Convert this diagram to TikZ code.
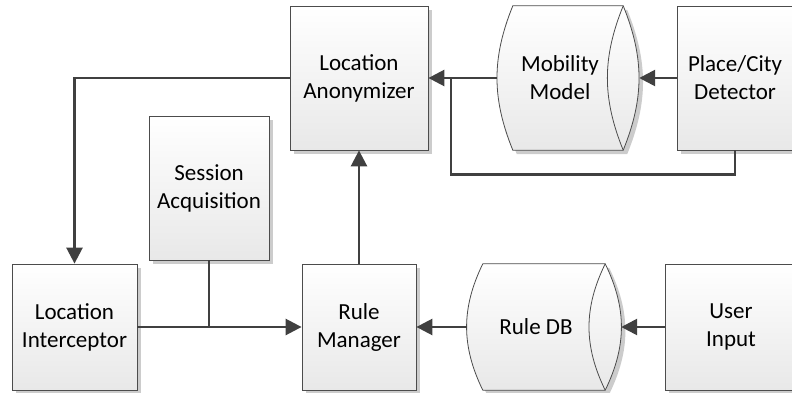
\documentclass[tikz,border=0pt]{standalone}
\usepackage{fontspec}
\setmainfont{Carlito}
\usepackage{tikz}
\usetikzlibrary{positioning,calc,shadows,arrows.meta,backgrounds}

\begin{document}
\begin{tikzpicture}[x=1pt,y=-1pt,
    block/.style={draw=black!70, line width=0.8pt, top color=white, bottom color=black!9,
        drop shadow={shadow xshift=4pt, shadow yshift=-4pt, fill=black!20, opacity=1},
        align=center, inner sep=0pt, font=\fontsize{23}{28}\selectfont},
    dbtext/.style={align=center, inner sep=0pt, font=\fontsize{23}{28}\selectfont},
    dbbody/.style={draw=black!70, line width=0.8pt, top color=white, bottom color=black!9,
        drop shadow={shadow xshift=4pt, shadow yshift=-4pt, fill=black!20, opacity=1}},
    dbedge/.style={draw=black!70, line width=0.8pt},
    link/.style={draw=black!75, line width=2.6pt},
    flow/.style={link, -{Triangle[length=16pt,width=16pt]}}]
    \useasboundingbox (0,0) rectangle (792,393);
    \clip (0,0) rectangle (792,393);

    % upper row
    \node[block, minimum width=138pt, minimum height=144pt] (anon) at (359,78) {Location\\Anonymizer};
    \node[dbtext, minimum width=94pt, minimum height=144pt] (mobil) at (560,78) {Mobility\\Model};
    \node[block, minimum width=116pt, minimum height=144pt] (place) at (735,78) {Place/City\\Detector};
    \node[block, minimum width=120pt, minimum height=144pt] (sess) at (209,188) {Session\\Acquisition};

    % lower row
    \node[block, minimum width=125pt, minimum height=126pt] (icpt) at (74.5,327) {Location\\Interceptor};
    \node[block, minimum width=114pt, minimum height=126pt] (rules) at (359,327) {Rule\\Manager};
    \node[dbtext, minimum width=106pt, minimum height=126pt] (ruledb) at (536,327) {Rule DB};
    \node[block, minimum width=132pt, minimum height=126pt] (input) at (731,327) {User\\Input};

    % data stores
    \begin{pgfonlayer}{background}
    \draw[dbbody] (mobil.north west) to[bend right=22] (mobil.south west)
        -- ([xshift=16pt]mobil.south east) to[bend right=22] ([xshift=16pt]mobil.north east) -- cycle;
    \draw[dbedge] ([xshift=16pt]mobil.north east) to[bend right=22] ([xshift=16pt]mobil.south east);
    \draw[dbbody] (ruledb.north west) to[bend right=26] (ruledb.south west)
        -- ([xshift=16pt]ruledb.south east) to[bend right=26] ([xshift=16pt]ruledb.north east) -- cycle;
    \draw[dbedge] ([xshift=16pt]ruledb.north east) to[bend right=26] ([xshift=16pt]ruledb.south east);
    \end{pgfonlayer}

    % connectors
    \coordinate (tap) at (451,78);
    \draw[flow] (anon.west) -| (icpt.north);
    \draw[flow] ([xshift=-16pt]mobil.west) -- (anon.east);
    \draw[flow] (place.west) -- ([xshift=32pt]mobil.east);
    \draw[link] (place.south) -- ++(0,24) -| (tap);
    \draw[flow] (rules.north) -- (anon.south);
    \draw[flow] (icpt.east) -- (rules.west);
    \draw[link] (sess.south) -- (sess.south |- icpt.east);
    \draw[flow] (input.west) -- ([xshift=32pt]ruledb.east);
    \draw[flow] ([xshift=-16pt]ruledb.west) -- (rules.east);
\end{tikzpicture}
\end{document}
